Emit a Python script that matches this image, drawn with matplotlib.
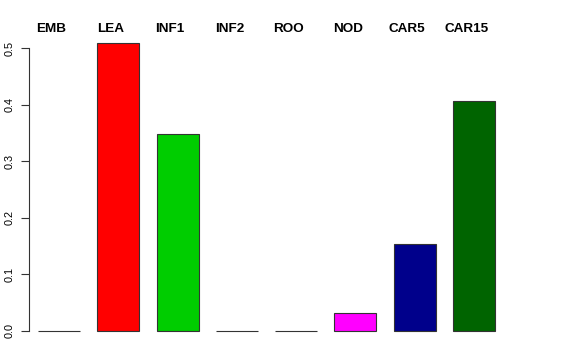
import matplotlib
matplotlib.use("Agg")
import matplotlib.pyplot as plt
from matplotlib import transforms

categories = ["EMB", "LEA", "INF1", "INF2", "ROO", "NOD", "CAR5", "CAR15"]
values = [0.0, 0.509, 0.348, 0.0, 0.0, 0.032, 0.154, 0.406]
colors = ["black", "#FF0000", "#00CD00", "#0000FF", "#00FFFF", "#FF00FF", "#00008B", "#006400"]

plt.rcParams['font.family'] = ['Liberation Sans', 'DejaVu Sans']

fig = plt.figure(figsize=(5.76, 3.6), dpi=100)
# axes placed like R's plot region
ax = fig.add_axes([29/576, 1 - 342.5/360, (521 - 29)/576, (342.5 - 31.5)/360])

# bar slots 1.2 apart, bars a bit narrower
lefts = [0.2 + 1.2*i for i in range(len(values))]
bw = 42/49.4
ax.bar(lefts, values, width=bw, align='edge', color=colors,
       edgecolor='#333333', linewidth=0.8)

ax.set_xlim(0.2 - 9/49.4, 0.2 + (521 - 38)/49.4)
ax.set_ylim(-11.5/566, (331 - 31.5)/566)

for s in ['top', 'right', 'bottom']:
    ax.spines[s].set_visible(False)
ax.spines['left'].set_bounds(0, 0.5)
ax.spines['left'].set_color('#333333')
ax.spines['left'].set_linewidth(0.8)
ax.set_xticks([])
ax.set_yticks([0.0, 0.1, 0.2, 0.3, 0.4, 0.5])
ax.set_yticklabels(["0.0", "0.1", "0.2", "0.3", "0.4", "0.5"], rotation=90, va='center')
ax.tick_params(axis='y', length=6, width=0.8, color='#333333', labelsize=7.8, pad=4)

# category names along the top, bold
trans = transforms.blended_transform_factory(ax.transData, fig.transFigure)
for l, name in zip(lefts, categories):
    ax.text(l + bw/2 - 0.15, 1 - 29.5/360, name, transform=trans,
            ha='center', va='center', fontsize=9.7, fontweight='bold')

fig.savefig("out.png", dpi=100)
